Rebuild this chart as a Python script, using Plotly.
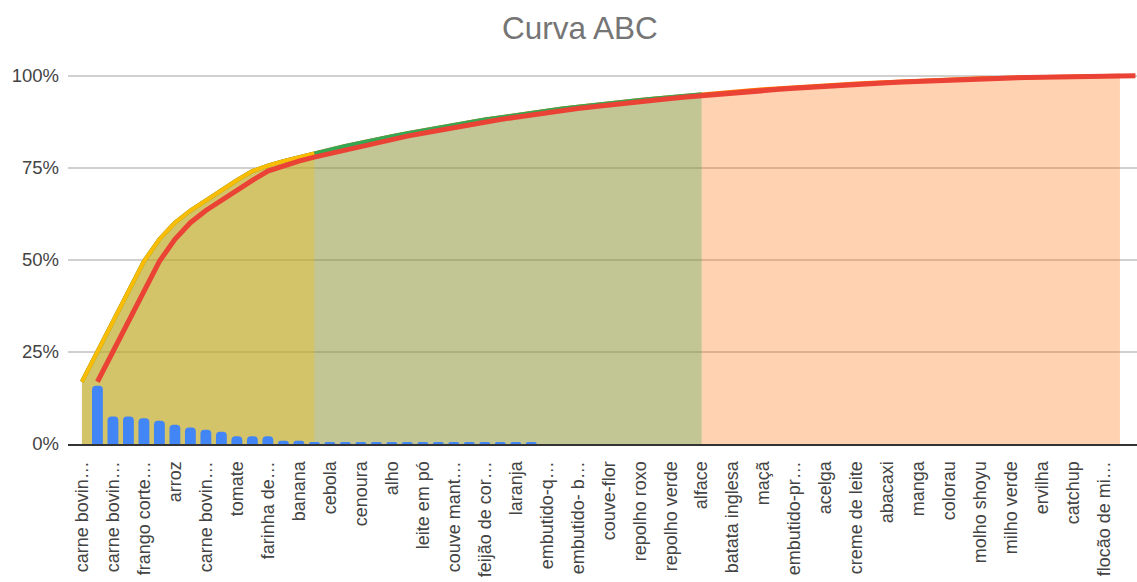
import plotly.graph_objects as go

# ---- data ----
rotulos = [
    "carne bovin…", "carne bovin…", "frango corte…", "arroz", "carne bovin…",
    "tomate", "farinha de…", "banana", "cebola", "cenoura", "alho",
    "leite em pó", "couve mant…", "feijão de cor…", "laranja", "embutido-q…",
    "embutido- b…", "couve-flor", "repolho roxo", "repolho verde", "alface",
    "batata inglesa", "maçã", "embutido-pr…", "acelga", "creme de leite",
    "abacaxi", "manga", "colorau", "molho shoyu", "milho verde", "ervilha",
    "catchup", "flocão de mi…",
]

# share of each item (%), bars
participacao = [
    15.8, 7.5, 7.5, 7.0, 6.3, 5.2, 4.5, 3.9, 3.3, 2.1, 2.1, 2.1, 0.9, 0.9,
    0.55, 0.55, 0.55, 0.55, 0.55, 0.55, 0.55, 0.55, 0.55, 0.55, 0.55, 0.55,
    0.55, 0.55, 0.55,
    0, 0, 0, 0, 0, 0, 0, 0, 0, 0, 0, 0, 0, 0,
    0, 0, 0, 0, 0, 0, 0, 0, 0, 0, 0, 0, 0, 0,
    0, 0, 0, 0, 0, 0, 0, 0, 0, 0, 0,
]

# cumulative share (%), red line
acumulado = [
    16.9, 25.1, 33.3, 41.5, 49.6, 55.6, 60.1, 63.4, 66.2, 68.9, 71.6, 74.1,
    75.6, 76.8, 77.9,
    78.9, 79.9, 80.9, 81.85, 82.75, 83.6, 84.4, 85.2, 85.95, 86.7, 87.4,
    88.1, 88.75, 89.4, 90.0, 90.55, 91.1, 91.6, 92.1, 92.55, 93.0, 93.4,
    93.8, 94.2, 94.6,
    94.95, 95.3, 95.65, 96.0, 96.3, 96.6, 96.9, 97.15, 97.4, 97.65, 97.9,
    98.1, 98.3, 98.5, 98.7, 98.85, 99.0, 99.15, 99.3, 99.4, 99.5, 99.6,
    99.7, 99.78, 99.85, 99.9, 99.95, 100.0,
]

# number of items whose cumulative curve forms each class area
itens_classe = {"A": 16, "B": 41, "C": 68}

cores_area = {"A": "#FBBC04", "B": "#34A853", "C": "#FF6D01"}


def rgba(hex_color, a):
    h = hex_color.lstrip("#")
    r, g, b = int(h[0:2], 16), int(h[2:4], 16), int(h[4:6], 16)
    return f"rgba({r},{g},{b},{a})"


fig = go.Figure()

# class areas (drawn C, B, A so A ends on top), one slot to the left of bars
for cls in ["C", "B", "A"]:
    n = itens_classe[cls]
    ys = [v / 100 for v in acumulado[:n]]
    fig.add_trace(go.Scatter(
        x=list(range(n)), y=ys, mode="lines", fill="tozeroy",
        line=dict(color=cores_area[cls], width=4),
        fillcolor=rgba(cores_area[cls], 0.3),
        hoverinfo="skip", showlegend=False, xaxis="x", yaxis="y",
    ))

# bars and cumulative line on an overlay so bars sit above the areas
xb = list(range(1, len(participacao) + 1))
fig.add_trace(go.Bar(
    x=xb, y=[v / 100 for v in participacao], width=0.7,
    marker=dict(color="#4285F4", cornerradius=4, line=dict(width=0)),
    showlegend=False, xaxis="x2", yaxis="y2",
))
fig.add_trace(go.Scatter(
    x=list(range(1, len(acumulado) + 1)), y=[v / 100 for v in acumulado],
    mode="lines", line=dict(color="#EA4335", width=5),
    showlegend=False, xaxis="x2", yaxis="y2",
))

xr = [-0.9, 68.1]
yr = [0, 1.04]
fnt = "Liberation Sans, Arial, sans-serif"

fig.update_layout(
    width=1137, height=582,
    margin=dict(l=68, r=0, t=61, b=138),
    paper_bgcolor="white", plot_bgcolor="white",
    font=dict(family=fnt, color="#444444"),
    title=dict(text="Curva ABC", x=0.51, xref="container", xanchor="center",
               y=1 - 28 / 582, yref="container", yanchor="middle",
               font=dict(size=31.5, color="#757575", family=fnt)),
    bargap=0.3,
    xaxis=dict(
        range=xr, tickmode="array",
        tickvals=list(range(0, 2 * len(rotulos), 2)), ticktext=rotulos,
        tickangle=-90, tickfont=dict(size=18, color="#444444"),
        showgrid=False, zeroline=False, showline=True,
        linecolor="#333333", linewidth=2, ticks="", ticklabelstandoff=8,
    ),
    yaxis=dict(
        range=yr, tickmode="array", tickvals=[0, 0.25, 0.5, 0.75, 1.0],
        tickformat=".0%", tickfont=dict(size=18.5, color="#444444"),
        showgrid=True, gridcolor="#d0d0d0", gridwidth=2,
        zeroline=False, showline=False, ticks="", ticklabelstandoff=8,
    ),
    xaxis2=dict(range=xr, overlaying="x", visible=False),
    yaxis2=dict(range=yr, overlaying="y", visible=False),
)

fig.write_html(
    "out.html",
    config={"displayModeBar": False},
    post_script="document.body.style.margin='0';document.body.style.overflow='hidden';",
)
